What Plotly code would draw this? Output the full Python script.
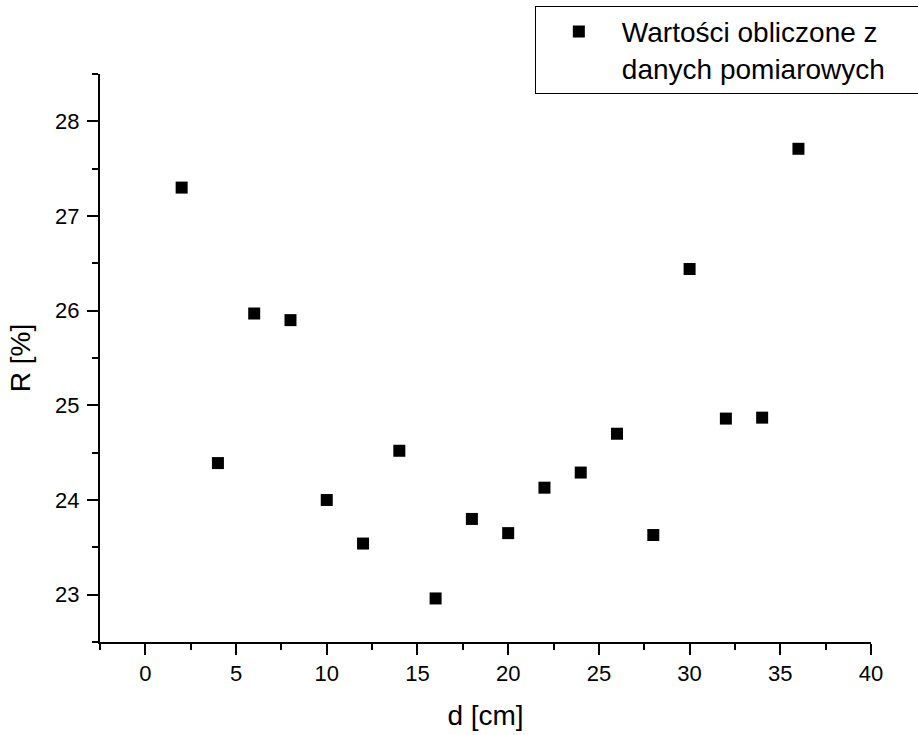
import plotly.graph_objects as go

d_cm = [2, 4, 6, 8, 10, 12, 14, 16, 18, 20, 22, 24, 26, 28, 30, 32, 34, 36]
R_pct = [27.30, 24.39, 25.97, 25.90, 24.00, 23.54, 24.52, 22.96, 23.80, 23.65,
         24.13, 24.29, 24.70, 23.63, 26.44, 24.86, 24.87, 27.71]
series_name = ("Wartości obliczone z" + "&nbsp;" * 5 + "<br>danych pomiarowych")

FONT = "Liberation Sans, Arial, sans-serif"

fig = go.Figure()
fig.add_trace(go.Scatter(
    x=d_cm, y=R_pct, mode="markers", name=series_name,
    marker=dict(symbol="square", size=12, color="black", line=dict(width=0)),
))

axis_common = dict(
    showline=True, linecolor="black", linewidth=2, mirror=False,
    ticks="outside", ticklen=11, tickwidth=2, tickcolor="black",
    showgrid=False, zeroline=False,
    tickfont=dict(family=FONT, size=22, color="black"),
)

fig.update_xaxes(
    range=[-2.5, 40], tick0=0, dtick=5,
    minor=dict(ticks="outside", ticklen=6, tickwidth=2, tickcolor="black", dtick=2.5, tick0=0, showgrid=False),
    title=dict(text="d [cm]", font=dict(family=FONT, size=28, color="black"), standoff=20),
    **axis_common,
)
fig.update_yaxes(
    range=[22.5, 28.5], tick0=23, dtick=1,
    minor=dict(ticks="outside", ticklen=6, tickwidth=2, tickcolor="black", dtick=0.5, tick0=23, showgrid=False),
    title=dict(text="R [%]", font=dict(family=FONT, size=28, color="black"), standoff=16),
    ticklabelstandoff=3,
    **axis_common,
)

fig.update_layout(
    width=918, height=735,
    margin=dict(l=100, r=47, t=74, b=93, autoexpand=False),
    paper_bgcolor="white", plot_bgcolor="white",
    showlegend=True,
    legend=dict(
        x=0.564, y=1.12, xanchor="left", yanchor="top",
        bordercolor="black", borderwidth=1, bgcolor="white",
        font=dict(family=FONT, size=28, color="black"),
        itemwidth=76, valign="top", tracegroupgap=0,
    ),
)

fig.write_html("out.html")
